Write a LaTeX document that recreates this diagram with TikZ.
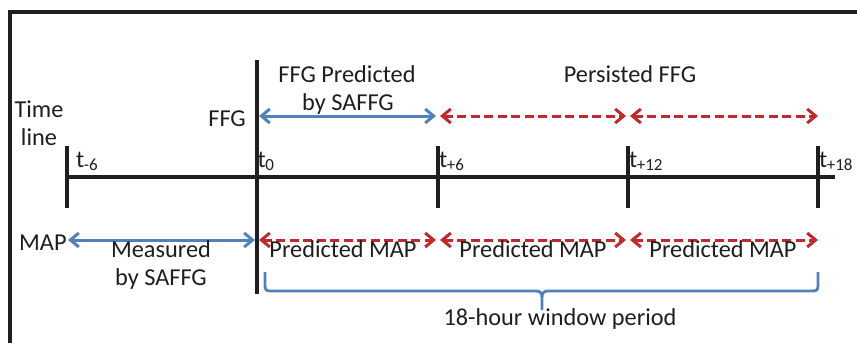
\documentclass[tikz,border=0pt]{standalone}
\usepackage{fontspec}
\setmainfont{Carlito}
\usetikzlibrary{arrows.meta}
\definecolor{ablue}{RGB}{79,129,189}
\definecolor{ared}{RGB}{195,40,45}
\definecolor{txt}{RGB}{30,30,30}
\tikzset{
  every node/.style={inner sep=0pt,text=txt,font=\fontsize{24.3}{28}\selectfont},
  blk/.style={line width=3.3pt,black!88},
  barb/.style={{Straight Barb[length=8.5pt,width=14pt]}-{Straight Barb[length=8.5pt,width=14pt]}},
  bluearr/.style={barb,line width=3pt,ablue},
  redarr/.style={barb,line width=3pt,ared,dash pattern=on 9pt off 4.5pt},
  bracepath/.style={line width=2.8pt,ablue},
  lbl/.style={anchor=base,align=center},
  sub/.style={anchor=base west}
}
\newcommand{\tsub}[1]{t\textsubscript{\kern-0.5pt#1}}
\begin{document}
\begin{tikzpicture}[x=1pt,y=-1pt]
\useasboundingbox (0,0) rectangle (857,343);
% frame
\draw[blk] (10,343) -- (10,12) -- (857,12);
% timeline ticks
\coordinate (am6) at (67,146);  \coordinate (bm6) at (67,208);
\coordinate (a0) at (257,60);   \coordinate (b0) at (257,294);
\coordinate (a6) at (438,146);  \coordinate (b6) at (438,208);
\coordinate (a12) at (628,146); \coordinate (b12) at (628,208);
\coordinate (a18) at (818,146); \coordinate (b18) at (818,208);
\coordinate (tl0) at (67,177);  \coordinate (tl1) at (835,177);
\draw[blk] (tl0) -- (tl1);
\draw[blk] (am6) -- (bm6);
\draw[blk] (a0) -- (b0);
\draw[blk] (a6) -- (b6);
\draw[blk] (a12) -- (b12);
\draw[blk] (a18) -- (b18);
% FFG row
\coordinate (f0) at (259,116); \coordinate (f6) at (436,116);
\coordinate (f6b) at (440,116); \coordinate (f12) at (626,116);
\coordinate (f12b) at (630,116); \coordinate (f18) at (818,116);
\draw[bluearr] (f0) -- (f6);
\draw[redarr] (f6b) -- (f12);
\draw[redarr] (f12b) -- (f18);
% MAP row
\coordinate (mm6) at (68,240); \coordinate (m0) at (255,240);
\coordinate (m0b) at (259,240); \coordinate (m6) at (436,240);
\coordinate (m6b) at (440,240); \coordinate (m12) at (626,240);
\coordinate (m12b) at (630,240); \coordinate (m18) at (818,240);
\draw[bluearr] (mm6) -- (m0);
\draw[redarr] (m0b) -- (m6);
\draw[redarr] (m6b) -- (m12);
\draw[redarr] (m12b) -- (m18);
% brace
\coordinate (brL) at (265,272); \coordinate (brR) at (818,272); \coordinate (brT) at (542,310);
\draw[bracepath] (brL) -- (265,285) .. controls (265,290) and (266,291) .. (271,291) -- (536,291)
  .. controls (540,291) and (542,293) .. (542,297) -- (brT);
\draw[bracepath] (brR) -- (818,285) .. controls (818,290) and (817,291) .. (812,291) -- (548,291)
  .. controls (544,291) and (542,293) .. (542,297);
% labels
\node[lbl] (time) at (39,117) {Time};
\node[lbl] (line) at (39,145) {line};
\node[anchor=base east] (ffg) at (246,126) {FFG};
\node[lbl] (fp1) at (347,82) {FFG Predicted};
\node[lbl] (fp2) at (348,110) {by SAFFG};
\node[lbl] (pf) at (630,82) {Persisted FFG};
\node[sub] (tm6) at (76,167) {\tsub{-6}};
\node[sub] (t0) at (257.5,167) {\tsub{0}};
\node[sub] (t6) at (439,167) {\tsub{+6}};
\node[sub] (t12) at (629,167) {\tsub{+12}};
\node[sub] (t18) at (819,167) {\tsub{+18}};
\node[anchor=base west] (map) at (19,250) {MAP};
\node[lbl] (meas1) at (161,257) {Measured};
\node[lbl] (meas2) at (161,285) {by SAFFG};
\node[lbl] (pm1) at (343,257) {Predicted MAP};
\node[lbl] (pm2) at (533,257) {Predicted MAP};
\node[lbl] (pm3) at (723,257) {Predicted MAP};
\node[lbl] (win) at (560,325) {18-hour window period};
\end{tikzpicture}
\end{document}
